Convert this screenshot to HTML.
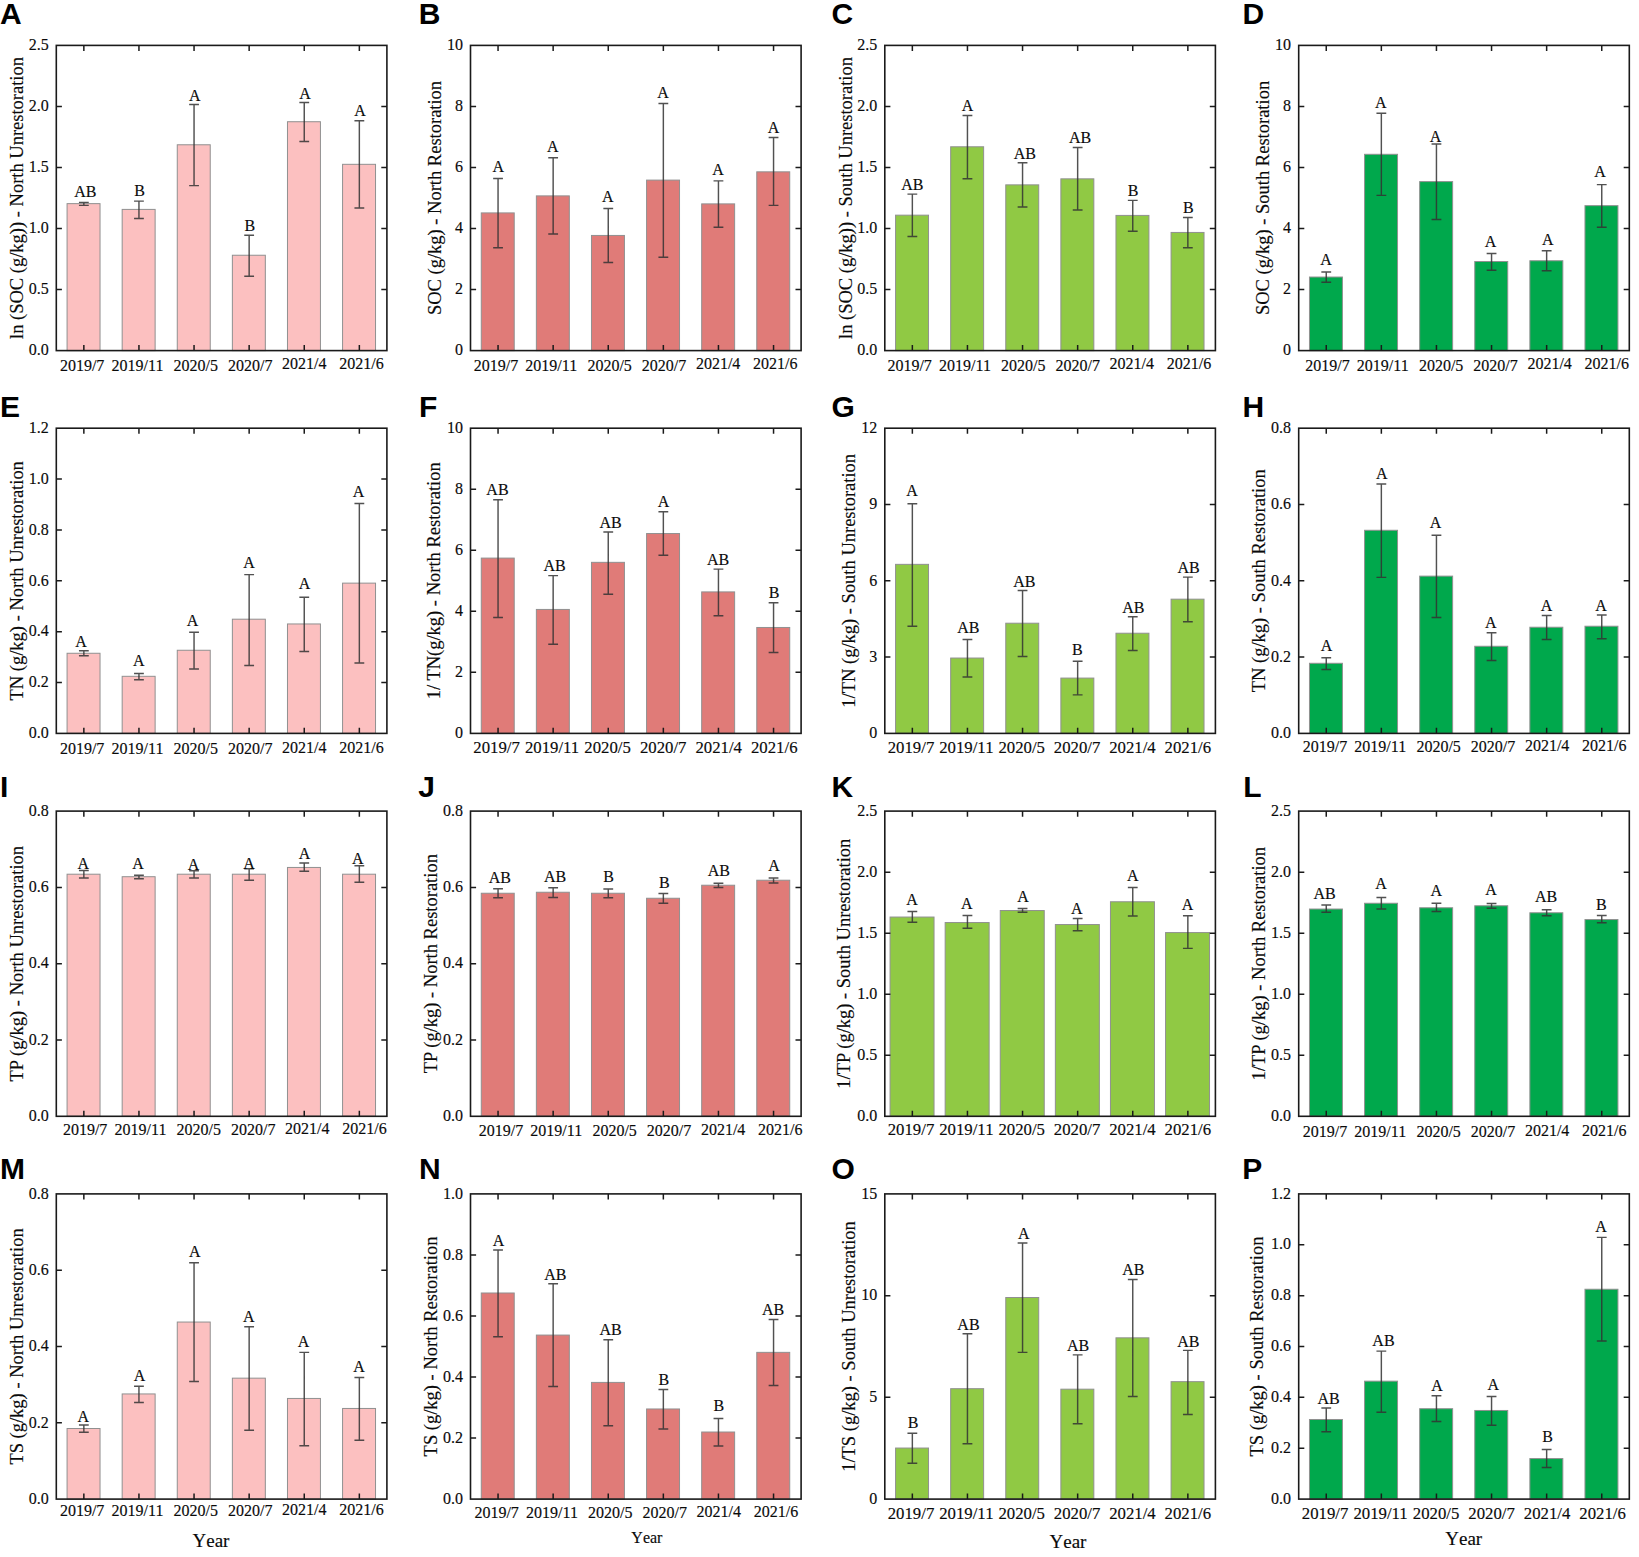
<!DOCTYPE html>
<html lang="en"><head><meta charset="utf-8"><title>Soil nutrient bar charts</title>
<style>
html,body{margin:0;padding:0;background:#fff}
svg{display:block}
text{font-family:"Liberation Serif","Times New Roman",serif;fill:#0a0a0a;stroke:#0a0a0a;stroke-width:0.15px}
.t{font-size:16px}
.yt{font-size:20px}
.pl{font-family:"Liberation Sans",Arial,sans-serif;font-weight:bold;font-size:30px;fill:#000;stroke:none}
</style></head><body>
<svg width="1639" height="1557" viewBox="0 0 1639 1557">
<rect width="1639" height="1557" fill="#fff"/>
<g>
<rect x="67.07" y="203.64" width="32.96" height="146.96" fill="#fcc0c0" stroke="#909090" stroke-width="1"/>
<rect x="122.17" y="209.4" width="32.96" height="141.2" fill="#fcc0c0" stroke="#909090" stroke-width="1"/>
<rect x="177.27" y="144.78" width="32.96" height="205.82" fill="#fcc0c0" stroke="#909090" stroke-width="1"/>
<rect x="232.37" y="255.24" width="32.96" height="95.36" fill="#fcc0c0" stroke="#909090" stroke-width="1"/>
<rect x="287.47" y="121.73" width="32.96" height="228.87" fill="#fcc0c0" stroke="#909090" stroke-width="1"/>
<rect x="342.57" y="164.32" width="32.96" height="186.28" fill="#fcc0c0" stroke="#909090" stroke-width="1"/>
<path d="M83.85 202.39V205.39M78.95 202.39H88.75M78.95 205.39H88.75M138.95 201.14V218.42M134.05 201.14H143.85M134.05 218.42H143.85M194.05 104.45V185.61M189.15 104.45H198.95M189.15 185.61H198.95M249.15 235.2V276.28M244.25 235.2H254.05M244.25 276.28H254.05M304.25 102.45V141.52M299.35 102.45H309.15M299.35 141.52H309.15M359.35 120.73V207.9M354.45 120.73H364.25M354.45 207.9H364.25" stroke="#333" stroke-width="1.45" stroke-opacity="0.85" fill="none"/>
<path d="M83.85 45.4v5.6M83.85 350.6v-5.6M138.95 45.4v5.6M138.95 350.6v-5.6M194.05 45.4v5.6M194.05 350.6v-5.6M249.15 45.4v5.6M249.15 350.6v-5.6M304.25 45.4v5.6M304.25 350.6v-5.6M359.35 45.4v5.6M359.35 350.6v-5.6M56.3 289.56h5.6M386.9 289.56h-5.6M56.3 228.52h5.6M386.9 228.52h-5.6M56.3 167.48h5.6M386.9 167.48h-5.6M56.3 106.44h5.6M386.9 106.44h-5.6" stroke="#1a1a1a" stroke-width="1.5" fill="none"/>
<rect x="56.3" y="45.4" width="330.6" height="305.2" fill="none" stroke="#1a1a1a" stroke-width="1.6"/>
<text class="t" x="48.7" y="355.3" text-anchor="end">0.0</text>
<text class="t" x="48.7" y="294.26" text-anchor="end">0.5</text>
<text class="t" x="48.7" y="233.22" text-anchor="end">1.0</text>
<text class="t" x="48.7" y="172.18" text-anchor="end">1.5</text>
<text class="t" x="48.7" y="111.14" text-anchor="end">2.0</text>
<text class="t" x="48.7" y="50.1" text-anchor="end">2.5</text>
<text class="t" style="font-size:16px" x="82.15" y="370.71" text-anchor="middle">2019/7</text>
<text class="t" style="font-size:16px" x="137.5" y="370.71" text-anchor="middle">2019/11</text>
<text class="t" style="font-size:16px" x="195.85" y="370.71" text-anchor="middle">2020/5</text>
<text class="t" style="font-size:16px" x="250.25" y="370.71" text-anchor="middle">2020/7</text>
<text class="t" style="font-size:16px" x="304.35" y="369.46" text-anchor="middle">2021/4</text>
<text class="t" style="font-size:16px" x="361.45" y="369.46" text-anchor="middle">2021/6</text>
<text class="t" x="85.25" y="197.23" text-anchor="middle">AB</text>
<text class="t" x="139.55" y="196.48" text-anchor="middle">B</text>
<text class="t" x="194.75" y="100.79" text-anchor="middle">A</text>
<text class="t" x="249.75" y="230.54" text-anchor="middle">B</text>
<text class="t" x="304.95" y="98.54" text-anchor="middle">A</text>
<text class="t" x="360.05" y="116.32" text-anchor="middle">A</text>
<text class="yt" style="font-size:19.5px" transform="translate(23.1 198) rotate(-90) scale(0.9487 1)" text-anchor="middle">ln (SOC (g/kg)) - North Unrestoration</text>
<text class="pl" x="0" y="24">A</text>
</g>
<g>
<rect x="481.27" y="212.91" width="32.96" height="137.69" fill="#e07b78" stroke="#909090" stroke-width="1"/>
<rect x="536.37" y="195.88" width="32.96" height="154.72" fill="#e07b78" stroke="#909090" stroke-width="1"/>
<rect x="591.47" y="235.45" width="32.96" height="115.15" fill="#e07b78" stroke="#909090" stroke-width="1"/>
<rect x="646.57" y="180.1" width="32.96" height="170.5" fill="#e07b78" stroke="#909090" stroke-width="1"/>
<rect x="701.67" y="203.89" width="32.96" height="146.71" fill="#e07b78" stroke="#909090" stroke-width="1"/>
<rect x="756.77" y="171.83" width="32.96" height="178.77" fill="#e07b78" stroke="#909090" stroke-width="1"/>
<path d="M498.05 178.59V247.73M493.15 178.59H502.95M493.15 247.73H502.95M553.15 157.8V233.95M548.25 157.8H558.05M548.25 233.95H558.05M608.25 208.4V262.5M603.35 208.4H613.15M603.35 262.5H613.15M663.35 103.45V257.24M658.45 103.45H668.25M658.45 257.24H668.25M718.45 180.85V227.19M713.55 180.85H723.35M713.55 227.19H723.35M773.55 137.51V205.39M768.65 137.51H778.45M768.65 205.39H778.45" stroke="#333" stroke-width="1.45" stroke-opacity="0.85" fill="none"/>
<path d="M498.05 45.4v5.6M498.05 350.6v-5.6M553.15 45.4v5.6M553.15 350.6v-5.6M608.25 45.4v5.6M608.25 350.6v-5.6M663.35 45.4v5.6M663.35 350.6v-5.6M718.45 45.4v5.6M718.45 350.6v-5.6M773.55 45.4v5.6M773.55 350.6v-5.6M470.5 289.56h5.6M801.1 289.56h-5.6M470.5 228.52h5.6M801.1 228.52h-5.6M470.5 167.48h5.6M801.1 167.48h-5.6M470.5 106.44h5.6M801.1 106.44h-5.6" stroke="#1a1a1a" stroke-width="1.5" fill="none"/>
<rect x="470.5" y="45.4" width="330.6" height="305.2" fill="none" stroke="#1a1a1a" stroke-width="1.6"/>
<text class="t" x="462.9" y="355.3" text-anchor="end">0</text>
<text class="t" x="462.9" y="294.26" text-anchor="end">2</text>
<text class="t" x="462.9" y="233.22" text-anchor="end">4</text>
<text class="t" x="462.9" y="172.18" text-anchor="end">6</text>
<text class="t" x="462.9" y="111.14" text-anchor="end">8</text>
<text class="t" x="462.9" y="50.1" text-anchor="end">10</text>
<text class="t" style="font-size:16px" x="495.95" y="370.71" text-anchor="middle">2019/7</text>
<text class="t" style="font-size:16px" x="551.3" y="370.71" text-anchor="middle">2019/11</text>
<text class="t" style="font-size:16px" x="609.65" y="370.71" text-anchor="middle">2020/5</text>
<text class="t" style="font-size:16px" x="664.05" y="370.71" text-anchor="middle">2020/7</text>
<text class="t" style="font-size:16px" x="718.15" y="369.46" text-anchor="middle">2021/4</text>
<text class="t" style="font-size:16px" x="775.25" y="369.46" text-anchor="middle">2021/6</text>
<text class="t" x="498.25" y="172.43" text-anchor="middle">A</text>
<text class="t" x="552.75" y="151.89" text-anchor="middle">A</text>
<text class="t" x="607.85" y="202.24" text-anchor="middle">A</text>
<text class="t" x="662.95" y="98.29" text-anchor="middle">A</text>
<text class="t" x="718.05" y="175.44" text-anchor="middle">A</text>
<text class="t" x="773.55" y="132.6" text-anchor="middle">A</text>
<text class="yt" style="font-size:19.5px" transform="translate(441.1 198) rotate(-90) scale(0.9487 1)" text-anchor="middle">SOC (g/kg) - North Restoration</text>
<text class="pl" x="418.7" y="24">B</text>
</g>
<g>
<rect x="895.57" y="215.16" width="32.96" height="135.44" fill="#90c944" stroke="#909090" stroke-width="1"/>
<rect x="950.67" y="146.78" width="32.96" height="203.82" fill="#90c944" stroke="#909090" stroke-width="1"/>
<rect x="1005.77" y="184.86" width="32.96" height="165.74" fill="#90c944" stroke="#909090" stroke-width="1"/>
<rect x="1060.87" y="178.84" width="32.96" height="171.76" fill="#90c944" stroke="#909090" stroke-width="1"/>
<rect x="1115.97" y="215.41" width="32.96" height="135.19" fill="#90c944" stroke="#909090" stroke-width="1"/>
<rect x="1171.07" y="232.45" width="32.96" height="118.15" fill="#90c944" stroke="#909090" stroke-width="1"/>
<path d="M912.35 194.12V236.45M907.45 194.12H917.25M907.45 236.45H917.25M967.45 115.47V178.84M962.55 115.47H972.35M962.55 178.84H972.35M1022.55 162.81V206.9M1017.65 162.81H1027.45M1017.65 206.9H1027.45M1077.65 147.53V209.9M1072.75 147.53H1082.55M1072.75 209.9H1082.55M1132.75 200.39V231.19M1127.85 200.39H1137.65M1127.85 231.19H1137.65M1187.85 217.42V247.73M1182.95 217.42H1192.75M1182.95 247.73H1192.75" stroke="#333" stroke-width="1.45" stroke-opacity="0.85" fill="none"/>
<path d="M912.35 45.4v5.6M912.35 350.6v-5.6M967.45 45.4v5.6M967.45 350.6v-5.6M1022.55 45.4v5.6M1022.55 350.6v-5.6M1077.65 45.4v5.6M1077.65 350.6v-5.6M1132.75 45.4v5.6M1132.75 350.6v-5.6M1187.85 45.4v5.6M1187.85 350.6v-5.6M884.8 289.56h5.6M1215.4 289.56h-5.6M884.8 228.52h5.6M1215.4 228.52h-5.6M884.8 167.48h5.6M1215.4 167.48h-5.6M884.8 106.44h5.6M1215.4 106.44h-5.6" stroke="#1a1a1a" stroke-width="1.5" fill="none"/>
<rect x="884.8" y="45.4" width="330.6" height="305.2" fill="none" stroke="#1a1a1a" stroke-width="1.6"/>
<text class="t" x="877.2" y="355.3" text-anchor="end">0.0</text>
<text class="t" x="877.2" y="294.26" text-anchor="end">0.5</text>
<text class="t" x="877.2" y="233.22" text-anchor="end">1.0</text>
<text class="t" x="877.2" y="172.18" text-anchor="end">1.5</text>
<text class="t" x="877.2" y="111.14" text-anchor="end">2.0</text>
<text class="t" x="877.2" y="50.1" text-anchor="end">2.5</text>
<text class="t" style="font-size:16px" x="909.65" y="370.71" text-anchor="middle">2019/7</text>
<text class="t" style="font-size:16px" x="965" y="370.71" text-anchor="middle">2019/11</text>
<text class="t" style="font-size:16px" x="1023.35" y="370.71" text-anchor="middle">2020/5</text>
<text class="t" style="font-size:16px" x="1077.75" y="370.71" text-anchor="middle">2020/7</text>
<text class="t" style="font-size:16px" x="1131.85" y="369.46" text-anchor="middle">2021/4</text>
<text class="t" style="font-size:16px" x="1188.95" y="369.46" text-anchor="middle">2021/6</text>
<text class="t" x="912.35" y="190.21" text-anchor="middle">AB</text>
<text class="t" x="967.45" y="110.81" text-anchor="middle">A</text>
<text class="t" x="1024.75" y="158.9" text-anchor="middle">AB</text>
<text class="t" x="1080.15" y="142.87" text-anchor="middle">AB</text>
<text class="t" x="1133.05" y="195.98" text-anchor="middle">B</text>
<text class="t" x="1188.35" y="212.51" text-anchor="middle">B</text>
<text class="yt" style="font-size:19.5px" transform="translate(851.6 198) rotate(-90) scale(0.9487 1)" text-anchor="middle">ln (SOC (g/kg)) - South Unrestoration</text>
<text class="pl" x="831.5" y="24">C</text>
</g>
<g>
<rect x="1309.47" y="277.03" width="32.96" height="73.57" fill="#00a84c" stroke="#909090" stroke-width="1"/>
<rect x="1364.57" y="154.3" width="32.96" height="196.3" fill="#00a84c" stroke="#909090" stroke-width="1"/>
<rect x="1419.67" y="181.6" width="32.96" height="169" fill="#00a84c" stroke="#909090" stroke-width="1"/>
<rect x="1474.77" y="261.5" width="32.96" height="89.1" fill="#00a84c" stroke="#909090" stroke-width="1"/>
<rect x="1529.87" y="260.75" width="32.96" height="89.85" fill="#00a84c" stroke="#909090" stroke-width="1"/>
<rect x="1584.97" y="205.65" width="32.96" height="144.95" fill="#00a84c" stroke="#909090" stroke-width="1"/>
<path d="M1326.25 272.02V282.29M1321.35 272.02H1331.15M1321.35 282.29H1331.15M1381.35 113.22V195.38M1376.45 113.22H1386.25M1376.45 195.38H1386.25M1436.45 144.03V219.42M1431.55 144.03H1441.35M1431.55 219.42H1441.35M1491.55 253.49V270.27M1486.65 253.49H1496.45M1486.65 270.27H1496.45M1546.65 250.73V270.77M1541.75 250.73H1551.55M1541.75 270.77H1551.55M1601.75 184.61V227.19M1596.85 184.61H1606.65M1596.85 227.19H1606.65" stroke="#333" stroke-width="1.45" stroke-opacity="0.85" fill="none"/>
<path d="M1326.25 45.4v5.6M1326.25 350.6v-5.6M1381.35 45.4v5.6M1381.35 350.6v-5.6M1436.45 45.4v5.6M1436.45 350.6v-5.6M1491.55 45.4v5.6M1491.55 350.6v-5.6M1546.65 45.4v5.6M1546.65 350.6v-5.6M1601.75 45.4v5.6M1601.75 350.6v-5.6M1298.7 289.56h5.6M1629.3 289.56h-5.6M1298.7 228.52h5.6M1629.3 228.52h-5.6M1298.7 167.48h5.6M1629.3 167.48h-5.6M1298.7 106.44h5.6M1629.3 106.44h-5.6" stroke="#1a1a1a" stroke-width="1.5" fill="none"/>
<rect x="1298.7" y="45.4" width="330.6" height="305.2" fill="none" stroke="#1a1a1a" stroke-width="1.6"/>
<text class="t" x="1291.1" y="355.3" text-anchor="end">0</text>
<text class="t" x="1291.1" y="294.26" text-anchor="end">2</text>
<text class="t" x="1291.1" y="233.22" text-anchor="end">4</text>
<text class="t" x="1291.1" y="172.18" text-anchor="end">6</text>
<text class="t" x="1291.1" y="111.14" text-anchor="end">8</text>
<text class="t" x="1291.1" y="50.1" text-anchor="end">10</text>
<text class="t" style="font-size:16px" x="1327.45" y="370.71" text-anchor="middle">2019/7</text>
<text class="t" style="font-size:16px" x="1382.8" y="370.71" text-anchor="middle">2019/11</text>
<text class="t" style="font-size:16px" x="1441.15" y="370.71" text-anchor="middle">2020/5</text>
<text class="t" style="font-size:16px" x="1495.55" y="370.71" text-anchor="middle">2020/7</text>
<text class="t" style="font-size:16px" x="1549.65" y="369.46" text-anchor="middle">2021/4</text>
<text class="t" style="font-size:16px" x="1606.75" y="369.46" text-anchor="middle">2021/6</text>
<text class="t" x="1326.05" y="265.11" text-anchor="middle">A</text>
<text class="t" x="1380.85" y="107.81" text-anchor="middle">A</text>
<text class="t" x="1435.65" y="141.62" text-anchor="middle">A</text>
<text class="t" x="1490.65" y="246.82" text-anchor="middle">A</text>
<text class="t" x="1547.85" y="245.07" text-anchor="middle">A</text>
<text class="t" x="1600.05" y="176.94" text-anchor="middle">A</text>
<text class="yt" style="font-size:19.5px" transform="translate(1268.6 198) rotate(-90) scale(0.9487 1)" text-anchor="middle">SOC (g/kg) - South Restoration</text>
<text class="pl" x="1242.5" y="24">D</text>
</g>
<g>
<rect x="67.07" y="653.27" width="32.96" height="80.13" fill="#fcc0c0" stroke="#909090" stroke-width="1"/>
<rect x="122.17" y="676.31" width="32.96" height="57.09" fill="#fcc0c0" stroke="#909090" stroke-width="1"/>
<rect x="177.27" y="650.26" width="32.96" height="83.14" fill="#fcc0c0" stroke="#909090" stroke-width="1"/>
<rect x="232.37" y="619.2" width="32.96" height="114.2" fill="#fcc0c0" stroke="#909090" stroke-width="1"/>
<rect x="287.47" y="623.96" width="32.96" height="109.44" fill="#fcc0c0" stroke="#909090" stroke-width="1"/>
<rect x="342.57" y="583.13" width="32.96" height="150.27" fill="#fcc0c0" stroke="#909090" stroke-width="1"/>
<path d="M83.85 650.76V655.77M78.95 650.76H88.75M78.95 655.77H88.75M138.95 673.56V679.82M134.05 673.56H143.85M134.05 679.82H143.85M194.05 632.23V669.05M189.15 632.23H198.95M189.15 669.05H198.95M249.15 574.62V665.54M244.25 574.62H254.05M244.25 665.54H254.05M304.25 597.16V651.52M299.35 597.16H309.15M299.35 651.52H309.15M359.35 503.48V663.04M354.45 503.48H364.25M354.45 663.04H364.25" stroke="#333" stroke-width="1.45" stroke-opacity="0.85" fill="none"/>
<path d="M83.85 428.2v5.6M83.85 733.4v-5.6M138.95 428.2v5.6M138.95 733.4v-5.6M194.05 428.2v5.6M194.05 733.4v-5.6M249.15 428.2v5.6M249.15 733.4v-5.6M304.25 428.2v5.6M304.25 733.4v-5.6M359.35 428.2v5.6M359.35 733.4v-5.6M56.3 682.53h5.6M386.9 682.53h-5.6M56.3 631.67h5.6M386.9 631.67h-5.6M56.3 580.8h5.6M386.9 580.8h-5.6M56.3 529.93h5.6M386.9 529.93h-5.6M56.3 479.07h5.6M386.9 479.07h-5.6" stroke="#1a1a1a" stroke-width="1.5" fill="none"/>
<rect x="56.3" y="428.2" width="330.6" height="305.2" fill="none" stroke="#1a1a1a" stroke-width="1.6"/>
<text class="t" x="48.7" y="738.1" text-anchor="end">0.0</text>
<text class="t" x="48.7" y="687.23" text-anchor="end">0.2</text>
<text class="t" x="48.7" y="636.37" text-anchor="end">0.4</text>
<text class="t" x="48.7" y="585.5" text-anchor="end">0.6</text>
<text class="t" x="48.7" y="534.63" text-anchor="end">0.8</text>
<text class="t" x="48.7" y="483.77" text-anchor="end">1.0</text>
<text class="t" x="48.7" y="432.9" text-anchor="end">1.2</text>
<text class="t" style="font-size:16px" x="82.15" y="754.21" text-anchor="middle">2019/7</text>
<text class="t" style="font-size:16px" x="137.5" y="754.21" text-anchor="middle">2019/11</text>
<text class="t" style="font-size:16px" x="195.85" y="754.21" text-anchor="middle">2020/5</text>
<text class="t" style="font-size:16px" x="250.25" y="754.21" text-anchor="middle">2020/7</text>
<text class="t" style="font-size:16px" x="304.35" y="753.21" text-anchor="middle">2021/4</text>
<text class="t" style="font-size:16px" x="361.45" y="753.21" text-anchor="middle">2021/6</text>
<text class="t" x="81.15" y="647.36" text-anchor="middle">A</text>
<text class="t" x="138.75" y="665.89" text-anchor="middle">A</text>
<text class="t" x="192.65" y="626.07" text-anchor="middle">A</text>
<text class="t" x="249.15" y="567.7" text-anchor="middle">A</text>
<text class="t" x="304.55" y="589.25" text-anchor="middle">A</text>
<text class="t" x="358.65" y="497.07" text-anchor="middle">A</text>
<text class="yt" style="font-size:19.5px" transform="translate(23.1 580.8) rotate(-90) scale(0.9487 1)" text-anchor="middle">TN (g/kg) - North Unrestoration</text>
<text class="pl" x="0" y="416.8">E</text>
</g>
<g>
<rect x="481.27" y="558.09" width="32.96" height="175.31" fill="#e07b78" stroke="#909090" stroke-width="1"/>
<rect x="536.37" y="609.44" width="32.96" height="123.96" fill="#e07b78" stroke="#909090" stroke-width="1"/>
<rect x="591.47" y="562.34" width="32.96" height="171.06" fill="#e07b78" stroke="#909090" stroke-width="1"/>
<rect x="646.57" y="533.54" width="32.96" height="199.86" fill="#e07b78" stroke="#909090" stroke-width="1"/>
<rect x="701.67" y="591.9" width="32.96" height="141.5" fill="#e07b78" stroke="#909090" stroke-width="1"/>
<rect x="756.77" y="627.47" width="32.96" height="105.93" fill="#e07b78" stroke="#909090" stroke-width="1"/>
<path d="M498.05 499.72V617.45M493.15 499.72H502.95M493.15 617.45H502.95M553.15 575.62V644.25M548.25 575.62H558.05M548.25 644.25H558.05M608.25 532.04V594.16M603.35 532.04H613.15M603.35 594.16H613.15M663.35 511.75V555.33M658.45 511.75H668.25M658.45 555.33H668.25M718.45 569.11V615.7M713.55 569.11H723.35M713.55 615.7H723.35M773.55 602.67V652.52M768.65 602.67H778.45M768.65 652.52H778.45" stroke="#333" stroke-width="1.45" stroke-opacity="0.85" fill="none"/>
<path d="M498.05 428.2v5.6M498.05 733.4v-5.6M553.15 428.2v5.6M553.15 733.4v-5.6M608.25 428.2v5.6M608.25 733.4v-5.6M663.35 428.2v5.6M663.35 733.4v-5.6M718.45 428.2v5.6M718.45 733.4v-5.6M773.55 428.2v5.6M773.55 733.4v-5.6M470.5 672.36h5.6M801.1 672.36h-5.6M470.5 611.32h5.6M801.1 611.32h-5.6M470.5 550.28h5.6M801.1 550.28h-5.6M470.5 489.24h5.6M801.1 489.24h-5.6" stroke="#1a1a1a" stroke-width="1.5" fill="none"/>
<rect x="470.5" y="428.2" width="330.6" height="305.2" fill="none" stroke="#1a1a1a" stroke-width="1.6"/>
<text class="t" x="462.9" y="738.1" text-anchor="end">0</text>
<text class="t" x="462.9" y="677.06" text-anchor="end">2</text>
<text class="t" x="462.9" y="616.02" text-anchor="end">4</text>
<text class="t" x="462.9" y="554.98" text-anchor="end">6</text>
<text class="t" x="462.9" y="493.94" text-anchor="end">8</text>
<text class="t" x="462.9" y="432.9" text-anchor="end">10</text>
<text class="t" style="font-size:16.75px" x="496.55" y="753.21" text-anchor="middle">2019/7</text>
<text class="t" style="font-size:16.75px" x="552.09" y="753.21" text-anchor="middle">2019/11</text>
<text class="t" style="font-size:16.75px" x="607.63" y="753.21" text-anchor="middle">2020/5</text>
<text class="t" style="font-size:16.75px" x="663.17" y="753.21" text-anchor="middle">2020/7</text>
<text class="t" style="font-size:16.75px" x="718.71" y="753.21" text-anchor="middle">2021/4</text>
<text class="t" style="font-size:16.75px" x="774.25" y="753.21" text-anchor="middle">2021/6</text>
<text class="t" x="497.45" y="495.06" text-anchor="middle">AB</text>
<text class="t" x="554.65" y="571.46" text-anchor="middle">AB</text>
<text class="t" x="610.55" y="528.38" text-anchor="middle">AB</text>
<text class="t" x="663.55" y="507.34" text-anchor="middle">A</text>
<text class="t" x="718.05" y="564.95" text-anchor="middle">AB</text>
<text class="t" x="774.05" y="597.76" text-anchor="middle">B</text>
<text class="yt" style="font-size:19.5px" transform="translate(440.3 580.8) rotate(-90) scale(0.9487 1)" text-anchor="middle">1/ TN(g/kg) - North Restoration</text>
<text class="pl" x="419" y="416.8">F</text>
</g>
<g>
<rect x="895.57" y="564.35" width="32.96" height="169.05" fill="#90c944" stroke="#909090" stroke-width="1"/>
<rect x="950.67" y="658.03" width="32.96" height="75.37" fill="#90c944" stroke="#909090" stroke-width="1"/>
<rect x="1005.77" y="623.21" width="32.96" height="110.19" fill="#90c944" stroke="#909090" stroke-width="1"/>
<rect x="1060.87" y="678.07" width="32.96" height="55.33" fill="#90c944" stroke="#909090" stroke-width="1"/>
<rect x="1115.97" y="633.23" width="32.96" height="100.17" fill="#90c944" stroke="#909090" stroke-width="1"/>
<rect x="1171.07" y="599.17" width="32.96" height="134.23" fill="#90c944" stroke="#909090" stroke-width="1"/>
<path d="M912.35 503.73V626.22M907.45 503.73H917.25M907.45 626.22H917.25M967.45 639.49V677.07M962.55 639.49H972.35M962.55 677.07H972.35M1022.55 590.4V656.53M1017.65 590.4H1027.45M1017.65 656.53H1027.45M1077.65 661.29V694.85M1072.75 661.29H1082.55M1072.75 694.85H1082.55M1132.75 616.7V650.51M1127.85 616.7H1137.65M1127.85 650.51H1137.65M1187.85 577.12V621.71M1182.95 577.12H1192.75M1182.95 621.71H1192.75" stroke="#333" stroke-width="1.45" stroke-opacity="0.85" fill="none"/>
<path d="M912.35 428.2v5.6M912.35 733.4v-5.6M967.45 428.2v5.6M967.45 733.4v-5.6M1022.55 428.2v5.6M1022.55 733.4v-5.6M1077.65 428.2v5.6M1077.65 733.4v-5.6M1132.75 428.2v5.6M1132.75 733.4v-5.6M1187.85 428.2v5.6M1187.85 733.4v-5.6M884.8 657.1h5.6M1215.4 657.1h-5.6M884.8 580.8h5.6M1215.4 580.8h-5.6M884.8 504.5h5.6M1215.4 504.5h-5.6" stroke="#1a1a1a" stroke-width="1.5" fill="none"/>
<rect x="884.8" y="428.2" width="330.6" height="305.2" fill="none" stroke="#1a1a1a" stroke-width="1.6"/>
<text class="t" x="877.2" y="738.1" text-anchor="end">0</text>
<text class="t" x="877.2" y="661.8" text-anchor="end">3</text>
<text class="t" x="877.2" y="585.5" text-anchor="end">6</text>
<text class="t" x="877.2" y="509.2" text-anchor="end">9</text>
<text class="t" x="877.2" y="432.9" text-anchor="end">12</text>
<text class="t" style="font-size:16.75px" x="911" y="752.96" text-anchor="middle">2019/7</text>
<text class="t" style="font-size:16.75px" x="966.37" y="752.96" text-anchor="middle">2019/11</text>
<text class="t" style="font-size:16.75px" x="1021.74" y="752.96" text-anchor="middle">2020/5</text>
<text class="t" style="font-size:16.75px" x="1077.11" y="752.96" text-anchor="middle">2020/7</text>
<text class="t" style="font-size:16.75px" x="1132.48" y="752.96" text-anchor="middle">2021/4</text>
<text class="t" style="font-size:16.75px" x="1187.85" y="752.96" text-anchor="middle">2021/6</text>
<text class="t" x="911.95" y="496.32" text-anchor="middle">A</text>
<text class="t" x="968.25" y="632.83" text-anchor="middle">AB</text>
<text class="t" x="1024.25" y="586.99" text-anchor="middle">AB</text>
<text class="t" x="1077.35" y="654.87" text-anchor="middle">B</text>
<text class="t" x="1133.25" y="613.04" text-anchor="middle">AB</text>
<text class="t" x="1188.65" y="573.21" text-anchor="middle">AB</text>
<text class="yt" style="font-size:19.5px" transform="translate(854.9 580.8) rotate(-90) scale(0.9487 1)" text-anchor="middle">1/TN (g/kg) - South Unrestoration</text>
<text class="pl" x="831.5" y="416.8">G</text>
</g>
<g>
<rect x="1309.47" y="663.29" width="32.96" height="70.11" fill="#00a84c" stroke="#909090" stroke-width="1"/>
<rect x="1364.57" y="530.28" width="32.96" height="203.12" fill="#00a84c" stroke="#909090" stroke-width="1"/>
<rect x="1419.67" y="576.12" width="32.96" height="157.28" fill="#00a84c" stroke="#909090" stroke-width="1"/>
<rect x="1474.77" y="646.26" width="32.96" height="87.14" fill="#00a84c" stroke="#909090" stroke-width="1"/>
<rect x="1529.87" y="627.22" width="32.96" height="106.18" fill="#00a84c" stroke="#909090" stroke-width="1"/>
<rect x="1584.97" y="626.22" width="32.96" height="107.18" fill="#00a84c" stroke="#909090" stroke-width="1"/>
<path d="M1326.25 657.78V669.55M1321.35 657.78H1331.15M1321.35 669.55H1331.15M1381.35 483.94V577.37M1376.45 483.94H1386.25M1376.45 577.37H1386.25M1436.45 535.29V617.45M1431.55 535.29H1441.35M1431.55 617.45H1441.35M1491.55 632.73V660.53M1486.65 632.73H1496.45M1486.65 660.53H1496.45M1546.65 615.45V639.49M1541.75 615.45H1551.55M1541.75 639.49H1551.55M1601.75 614.95V638.74M1596.85 614.95H1606.65M1596.85 638.74H1606.65" stroke="#333" stroke-width="1.45" stroke-opacity="0.85" fill="none"/>
<path d="M1326.25 428.2v5.6M1326.25 733.4v-5.6M1381.35 428.2v5.6M1381.35 733.4v-5.6M1436.45 428.2v5.6M1436.45 733.4v-5.6M1491.55 428.2v5.6M1491.55 733.4v-5.6M1546.65 428.2v5.6M1546.65 733.4v-5.6M1601.75 428.2v5.6M1601.75 733.4v-5.6M1298.7 657.1h5.6M1629.3 657.1h-5.6M1298.7 580.8h5.6M1629.3 580.8h-5.6M1298.7 504.5h5.6M1629.3 504.5h-5.6" stroke="#1a1a1a" stroke-width="1.5" fill="none"/>
<rect x="1298.7" y="428.2" width="330.6" height="305.2" fill="none" stroke="#1a1a1a" stroke-width="1.6"/>
<text class="t" x="1291.1" y="738.1" text-anchor="end">0.0</text>
<text class="t" x="1291.1" y="661.8" text-anchor="end">0.2</text>
<text class="t" x="1291.1" y="585.5" text-anchor="end">0.4</text>
<text class="t" x="1291.1" y="509.2" text-anchor="end">0.6</text>
<text class="t" x="1291.1" y="432.9" text-anchor="end">0.8</text>
<text class="t" style="font-size:16px" x="1324.95" y="751.71" text-anchor="middle">2019/7</text>
<text class="t" style="font-size:16px" x="1380.3" y="751.71" text-anchor="middle">2019/11</text>
<text class="t" style="font-size:16px" x="1438.65" y="751.71" text-anchor="middle">2020/5</text>
<text class="t" style="font-size:16px" x="1493.05" y="751.71" text-anchor="middle">2020/7</text>
<text class="t" style="font-size:16px" x="1547.15" y="750.71" text-anchor="middle">2021/4</text>
<text class="t" style="font-size:16px" x="1604.25" y="750.71" text-anchor="middle">2021/6</text>
<text class="t" x="1326.45" y="651.11" text-anchor="middle">A</text>
<text class="t" x="1381.75" y="478.78" text-anchor="middle">A</text>
<text class="t" x="1435.55" y="528.38" text-anchor="middle">A</text>
<text class="t" x="1490.75" y="627.82" text-anchor="middle">A</text>
<text class="t" x="1546.65" y="610.79" text-anchor="middle">A</text>
<text class="t" x="1601.15" y="610.54" text-anchor="middle">A</text>
<text class="yt" style="font-size:19.5px" transform="translate(1264.8 580.8) rotate(-90) scale(0.9487 1)" text-anchor="middle">TN (g/kg) - South Restoration</text>
<text class="pl" x="1242.5" y="416.8">H</text>
</g>
<g>
<rect x="67.07" y="874.21" width="32.96" height="242.09" fill="#fcc0c0" stroke="#909090" stroke-width="1"/>
<rect x="122.17" y="876.71" width="32.96" height="239.59" fill="#fcc0c0" stroke="#909090" stroke-width="1"/>
<rect x="177.27" y="874.21" width="32.96" height="242.09" fill="#fcc0c0" stroke="#909090" stroke-width="1"/>
<rect x="232.37" y="874.21" width="32.96" height="242.09" fill="#fcc0c0" stroke="#909090" stroke-width="1"/>
<rect x="287.47" y="867.45" width="32.96" height="248.85" fill="#fcc0c0" stroke="#909090" stroke-width="1"/>
<rect x="342.57" y="874.21" width="32.96" height="242.09" fill="#fcc0c0" stroke="#909090" stroke-width="1"/>
<path d="M83.85 870.45V877.97M78.95 870.45H88.75M78.95 877.97H88.75M138.95 875.21V878.72M134.05 875.21H143.85M134.05 878.72H143.85M194.05 870.7V877.97M189.15 870.7H198.95M189.15 877.97H198.95M249.15 868.7V880.22M244.25 868.7H254.05M244.25 880.22H254.05M304.25 862.94V871.2M299.35 862.94H309.15M299.35 871.2H309.15M359.35 865.69V882.22M354.45 865.69H364.25M354.45 882.22H364.25" stroke="#333" stroke-width="1.45" stroke-opacity="0.85" fill="none"/>
<path d="M83.85 811.1v5.6M83.85 1116.3v-5.6M138.95 811.1v5.6M138.95 1116.3v-5.6M194.05 811.1v5.6M194.05 1116.3v-5.6M249.15 811.1v5.6M249.15 1116.3v-5.6M304.25 811.1v5.6M304.25 1116.3v-5.6M359.35 811.1v5.6M359.35 1116.3v-5.6M56.3 1040h5.6M386.9 1040h-5.6M56.3 963.7h5.6M386.9 963.7h-5.6M56.3 887.4h5.6M386.9 887.4h-5.6" stroke="#1a1a1a" stroke-width="1.5" fill="none"/>
<rect x="56.3" y="811.1" width="330.6" height="305.2" fill="none" stroke="#1a1a1a" stroke-width="1.6"/>
<text class="t" x="48.7" y="1121" text-anchor="end">0.0</text>
<text class="t" x="48.7" y="1044.7" text-anchor="end">0.2</text>
<text class="t" x="48.7" y="968.4" text-anchor="end">0.4</text>
<text class="t" x="48.7" y="892.1" text-anchor="end">0.6</text>
<text class="t" x="48.7" y="815.8" text-anchor="end">0.8</text>
<text class="t" style="font-size:16px" x="85.15" y="1135.46" text-anchor="middle">2019/7</text>
<text class="t" style="font-size:16px" x="140.5" y="1135.46" text-anchor="middle">2019/11</text>
<text class="t" style="font-size:16px" x="198.85" y="1135.46" text-anchor="middle">2020/5</text>
<text class="t" style="font-size:16px" x="253.25" y="1135.46" text-anchor="middle">2020/7</text>
<text class="t" style="font-size:16px" x="307.35" y="1134.21" text-anchor="middle">2021/4</text>
<text class="t" style="font-size:16px" x="364.45" y="1134.21" text-anchor="middle">2021/6</text>
<text class="t" x="83.25" y="869.3" text-anchor="middle">A</text>
<text class="t" x="138.15" y="869.3" text-anchor="middle">A</text>
<text class="t" x="193.45" y="870.05" text-anchor="middle">A</text>
<text class="t" x="249.15" y="869.3" text-anchor="middle">A</text>
<text class="t" x="304.65" y="859.03" text-anchor="middle">A</text>
<text class="t" x="357.85" y="863.79" text-anchor="middle">A</text>
<text class="yt" style="font-size:19.5px" transform="translate(23.1 963.7) rotate(-90) scale(0.9487 1)" text-anchor="middle">TP (g/kg) - North Unrestoration</text>
<text class="pl" x="0" y="797.3">I</text>
</g>
<g>
<rect x="481.27" y="893.24" width="32.96" height="223.06" fill="#e07b78" stroke="#909090" stroke-width="1"/>
<rect x="536.37" y="892.24" width="32.96" height="224.06" fill="#e07b78" stroke="#909090" stroke-width="1"/>
<rect x="591.47" y="893.24" width="32.96" height="223.06" fill="#e07b78" stroke="#909090" stroke-width="1"/>
<rect x="646.57" y="898.25" width="32.96" height="218.05" fill="#e07b78" stroke="#909090" stroke-width="1"/>
<rect x="701.67" y="885.23" width="32.96" height="231.07" fill="#e07b78" stroke="#909090" stroke-width="1"/>
<rect x="756.77" y="880.22" width="32.96" height="236.08" fill="#e07b78" stroke="#909090" stroke-width="1"/>
<path d="M498.05 888.74V897.75M493.15 888.74H502.95M493.15 897.75H502.95M553.15 887.73V897.5M548.25 887.73H558.05M548.25 897.5H558.05M608.25 888.99V897.75M603.35 888.99H613.15M603.35 897.75H613.15M663.35 893.5V903.26M658.45 893.5H668.25M658.45 903.26H668.25M718.45 883.23V887.48M713.55 883.23H723.35M713.55 887.48H723.35M773.55 877.97V882.97M768.65 877.97H778.45M768.65 882.97H778.45" stroke="#333" stroke-width="1.45" stroke-opacity="0.85" fill="none"/>
<path d="M498.05 811.1v5.6M498.05 1116.3v-5.6M553.15 811.1v5.6M553.15 1116.3v-5.6M608.25 811.1v5.6M608.25 1116.3v-5.6M663.35 811.1v5.6M663.35 1116.3v-5.6M718.45 811.1v5.6M718.45 1116.3v-5.6M773.55 811.1v5.6M773.55 1116.3v-5.6M470.5 1040h5.6M801.1 1040h-5.6M470.5 963.7h5.6M801.1 963.7h-5.6M470.5 887.4h5.6M801.1 887.4h-5.6" stroke="#1a1a1a" stroke-width="1.5" fill="none"/>
<rect x="470.5" y="811.1" width="330.6" height="305.2" fill="none" stroke="#1a1a1a" stroke-width="1.6"/>
<text class="t" x="462.9" y="1121" text-anchor="end">0.0</text>
<text class="t" x="462.9" y="1044.7" text-anchor="end">0.2</text>
<text class="t" x="462.9" y="968.4" text-anchor="end">0.4</text>
<text class="t" x="462.9" y="892.1" text-anchor="end">0.6</text>
<text class="t" x="462.9" y="815.8" text-anchor="end">0.8</text>
<text class="t" style="font-size:16px" x="500.95" y="1136.21" text-anchor="middle">2019/7</text>
<text class="t" style="font-size:16px" x="556.3" y="1136.21" text-anchor="middle">2019/11</text>
<text class="t" style="font-size:16px" x="614.65" y="1136.21" text-anchor="middle">2020/5</text>
<text class="t" style="font-size:16px" x="669.05" y="1136.21" text-anchor="middle">2020/7</text>
<text class="t" style="font-size:16px" x="723.15" y="1135.21" text-anchor="middle">2021/4</text>
<text class="t" style="font-size:16px" x="780.25" y="1135.21" text-anchor="middle">2021/6</text>
<text class="t" x="499.75" y="883.32" text-anchor="middle">AB</text>
<text class="t" x="555.05" y="882.32" text-anchor="middle">AB</text>
<text class="t" x="608.55" y="882.32" text-anchor="middle">B</text>
<text class="t" x="664.45" y="887.58" text-anchor="middle">B</text>
<text class="t" x="718.85" y="875.56" text-anchor="middle">AB</text>
<text class="t" x="774.15" y="870.55" text-anchor="middle">A</text>
<text class="yt" style="font-size:19.5px" transform="translate(437.3 963.7) rotate(-90) scale(0.9487 1)" text-anchor="middle">TP (g/kg) - North Restoration</text>
<text class="pl" x="418.2" y="797.3">J</text>
</g>
<g>
<rect x="890.06" y="917.04" width="43.98" height="199.26" fill="#90c944" stroke="#909090" stroke-width="1"/>
<rect x="945.16" y="922.55" width="43.98" height="193.75" fill="#90c944" stroke="#909090" stroke-width="1"/>
<rect x="1000.26" y="910.53" width="43.98" height="205.77" fill="#90c944" stroke="#909090" stroke-width="1"/>
<rect x="1055.36" y="924.55" width="43.98" height="191.75" fill="#90c944" stroke="#909090" stroke-width="1"/>
<rect x="1110.46" y="901.76" width="43.98" height="214.54" fill="#90c944" stroke="#909090" stroke-width="1"/>
<rect x="1165.56" y="932.57" width="43.98" height="183.73" fill="#90c944" stroke="#909090" stroke-width="1"/>
<path d="M912.35 911.53V922.3M907.45 911.53H917.25M907.45 922.3H917.25M967.45 915.54V928.31M962.55 915.54H972.35M962.55 928.31H972.35M1022.55 908.52V912.28M1017.65 908.52H1027.45M1017.65 912.28H1027.45M1077.65 918.54V930.82M1072.75 918.54H1082.55M1072.75 930.82H1082.55M1132.75 887.48V916.04M1127.85 887.48H1137.65M1127.85 916.04H1137.65M1187.85 915.79V948.35M1182.95 915.79H1192.75M1182.95 948.35H1192.75" stroke="#333" stroke-width="1.45" stroke-opacity="0.85" fill="none"/>
<path d="M912.35 811.1v5.6M912.35 1116.3v-5.6M967.45 811.1v5.6M967.45 1116.3v-5.6M1022.55 811.1v5.6M1022.55 1116.3v-5.6M1077.65 811.1v5.6M1077.65 1116.3v-5.6M1132.75 811.1v5.6M1132.75 1116.3v-5.6M1187.85 811.1v5.6M1187.85 1116.3v-5.6M884.8 1055.26h5.6M1215.4 1055.26h-5.6M884.8 994.22h5.6M1215.4 994.22h-5.6M884.8 933.18h5.6M1215.4 933.18h-5.6M884.8 872.14h5.6M1215.4 872.14h-5.6" stroke="#1a1a1a" stroke-width="1.5" fill="none"/>
<rect x="884.8" y="811.1" width="330.6" height="305.2" fill="none" stroke="#1a1a1a" stroke-width="1.6"/>
<text class="t" x="877.2" y="1121" text-anchor="end">0.0</text>
<text class="t" x="877.2" y="1059.96" text-anchor="end">0.5</text>
<text class="t" x="877.2" y="998.92" text-anchor="end">1.0</text>
<text class="t" x="877.2" y="937.88" text-anchor="end">1.5</text>
<text class="t" x="877.2" y="876.84" text-anchor="end">2.0</text>
<text class="t" x="877.2" y="815.8" text-anchor="end">2.5</text>
<text class="t" style="font-size:16.75px" x="911" y="1135.46" text-anchor="middle">2019/7</text>
<text class="t" style="font-size:16.75px" x="966.37" y="1135.46" text-anchor="middle">2019/11</text>
<text class="t" style="font-size:16.75px" x="1021.74" y="1135.46" text-anchor="middle">2020/5</text>
<text class="t" style="font-size:16.75px" x="1077.11" y="1135.46" text-anchor="middle">2020/7</text>
<text class="t" style="font-size:16.75px" x="1132.48" y="1135.46" text-anchor="middle">2021/4</text>
<text class="t" style="font-size:16.75px" x="1187.85" y="1135.46" text-anchor="middle">2021/6</text>
<text class="t" x="911.95" y="905.37" text-anchor="middle">A</text>
<text class="t" x="966.85" y="909.37" text-anchor="middle">A</text>
<text class="t" x="1023.15" y="901.86" text-anchor="middle">A</text>
<text class="t" x="1076.85" y="914.38" text-anchor="middle">A</text>
<text class="t" x="1132.75" y="880.82" text-anchor="middle">A</text>
<text class="t" x="1187.65" y="910.38" text-anchor="middle">A</text>
<text class="yt" style="font-size:19.5px" transform="translate(850.1 963.7) rotate(-90) scale(0.9487 1)" text-anchor="middle">1/TP (g/kg) - South Unrestoration</text>
<text class="pl" x="831.5" y="797.3">K</text>
</g>
<g>
<rect x="1309.47" y="909.03" width="32.96" height="207.27" fill="#00a84c" stroke="#909090" stroke-width="1"/>
<rect x="1364.57" y="903.26" width="32.96" height="213.04" fill="#00a84c" stroke="#909090" stroke-width="1"/>
<rect x="1419.67" y="907.77" width="32.96" height="208.53" fill="#00a84c" stroke="#909090" stroke-width="1"/>
<rect x="1474.77" y="905.77" width="32.96" height="210.53" fill="#00a84c" stroke="#909090" stroke-width="1"/>
<rect x="1529.87" y="912.78" width="32.96" height="203.52" fill="#00a84c" stroke="#909090" stroke-width="1"/>
<rect x="1584.97" y="919.55" width="32.96" height="196.75" fill="#00a84c" stroke="#909090" stroke-width="1"/>
<path d="M1326.25 905.02V912.28M1321.35 905.02H1331.15M1321.35 912.28H1331.15M1381.35 897.5V909.03M1376.45 897.5H1386.25M1376.45 909.03H1386.25M1436.45 903.26V911.53M1431.55 903.26H1441.35M1431.55 911.53H1441.35M1491.55 903.51V908.27M1486.65 903.51H1496.45M1486.65 908.27H1496.45M1546.65 909.78V915.79M1541.75 909.78H1551.55M1541.75 915.79H1551.55M1601.75 915.54V922.8M1596.85 915.54H1606.65M1596.85 922.8H1606.65" stroke="#333" stroke-width="1.45" stroke-opacity="0.85" fill="none"/>
<path d="M1326.25 811.1v5.6M1326.25 1116.3v-5.6M1381.35 811.1v5.6M1381.35 1116.3v-5.6M1436.45 811.1v5.6M1436.45 1116.3v-5.6M1491.55 811.1v5.6M1491.55 1116.3v-5.6M1546.65 811.1v5.6M1546.65 1116.3v-5.6M1601.75 811.1v5.6M1601.75 1116.3v-5.6M1298.7 1055.26h5.6M1629.3 1055.26h-5.6M1298.7 994.22h5.6M1629.3 994.22h-5.6M1298.7 933.18h5.6M1629.3 933.18h-5.6M1298.7 872.14h5.6M1629.3 872.14h-5.6" stroke="#1a1a1a" stroke-width="1.5" fill="none"/>
<rect x="1298.7" y="811.1" width="330.6" height="305.2" fill="none" stroke="#1a1a1a" stroke-width="1.6"/>
<text class="t" x="1291.1" y="1121" text-anchor="end">0.0</text>
<text class="t" x="1291.1" y="1059.96" text-anchor="end">0.5</text>
<text class="t" x="1291.1" y="998.92" text-anchor="end">1.0</text>
<text class="t" x="1291.1" y="937.88" text-anchor="end">1.5</text>
<text class="t" x="1291.1" y="876.84" text-anchor="end">2.0</text>
<text class="t" x="1291.1" y="815.8" text-anchor="end">2.5</text>
<text class="t" style="font-size:16px" x="1324.95" y="1136.71" text-anchor="middle">2019/7</text>
<text class="t" style="font-size:16px" x="1380.3" y="1136.71" text-anchor="middle">2019/11</text>
<text class="t" style="font-size:16px" x="1438.65" y="1136.71" text-anchor="middle">2020/5</text>
<text class="t" style="font-size:16px" x="1493.05" y="1136.71" text-anchor="middle">2020/7</text>
<text class="t" style="font-size:16px" x="1547.15" y="1135.71" text-anchor="middle">2021/4</text>
<text class="t" style="font-size:16px" x="1604.25" y="1135.71" text-anchor="middle">2021/6</text>
<text class="t" x="1324.65" y="899.36" text-anchor="middle">AB</text>
<text class="t" x="1380.95" y="889.34" text-anchor="middle">A</text>
<text class="t" x="1436.25" y="895.85" text-anchor="middle">A</text>
<text class="t" x="1491.15" y="895.1" text-anchor="middle">A</text>
<text class="t" x="1546.05" y="901.86" text-anchor="middle">AB</text>
<text class="t" x="1601.25" y="910.38" text-anchor="middle">B</text>
<text class="yt" style="font-size:19.5px" transform="translate(1264.8 963.7) rotate(-90) scale(0.9487 1)" text-anchor="middle">1/TP (g/kg) - North Restoration</text>
<text class="pl" x="1243.2" y="797.3">L</text>
</g>
<g>
<rect x="67.07" y="1428.5" width="32.96" height="70.6" fill="#fcc0c0" stroke="#909090" stroke-width="1"/>
<rect x="122.17" y="1393.94" width="32.96" height="105.16" fill="#fcc0c0" stroke="#909090" stroke-width="1"/>
<rect x="177.27" y="1322.05" width="32.96" height="177.05" fill="#fcc0c0" stroke="#909090" stroke-width="1"/>
<rect x="232.37" y="1378.16" width="32.96" height="120.94" fill="#fcc0c0" stroke="#909090" stroke-width="1"/>
<rect x="287.47" y="1398.45" width="32.96" height="100.65" fill="#fcc0c0" stroke="#909090" stroke-width="1"/>
<rect x="342.57" y="1408.46" width="32.96" height="90.64" fill="#fcc0c0" stroke="#909090" stroke-width="1"/>
<path d="M83.85 1425V1432.26M78.95 1425H88.75M78.95 1432.26H88.75M138.95 1386.17V1402.45M134.05 1386.17H143.85M134.05 1402.45H143.85M194.05 1262.68V1381.41M189.15 1262.68H198.95M189.15 1381.41H198.95M249.15 1326.81V1430.26M244.25 1326.81H254.05M244.25 1430.26H254.05M304.25 1352.36V1445.79M299.35 1352.36H309.15M299.35 1445.79H309.15M359.35 1377.4V1440.28M354.45 1377.4H364.25M354.45 1440.28H364.25" stroke="#333" stroke-width="1.45" stroke-opacity="0.85" fill="none"/>
<path d="M83.85 1193.9v5.6M83.85 1499.1v-5.6M138.95 1193.9v5.6M138.95 1499.1v-5.6M194.05 1193.9v5.6M194.05 1499.1v-5.6M249.15 1193.9v5.6M249.15 1499.1v-5.6M304.25 1193.9v5.6M304.25 1499.1v-5.6M359.35 1193.9v5.6M359.35 1499.1v-5.6M56.3 1422.8h5.6M386.9 1422.8h-5.6M56.3 1346.5h5.6M386.9 1346.5h-5.6M56.3 1270.2h5.6M386.9 1270.2h-5.6" stroke="#1a1a1a" stroke-width="1.5" fill="none"/>
<rect x="56.3" y="1193.9" width="330.6" height="305.2" fill="none" stroke="#1a1a1a" stroke-width="1.6"/>
<text class="t" x="48.7" y="1503.8" text-anchor="end">0.0</text>
<text class="t" x="48.7" y="1427.5" text-anchor="end">0.2</text>
<text class="t" x="48.7" y="1351.2" text-anchor="end">0.4</text>
<text class="t" x="48.7" y="1274.9" text-anchor="end">0.6</text>
<text class="t" x="48.7" y="1198.6" text-anchor="end">0.8</text>
<text class="t" style="font-size:16px" x="82.15" y="1516.17" text-anchor="middle">2019/7</text>
<text class="t" style="font-size:16px" x="137.5" y="1516.17" text-anchor="middle">2019/11</text>
<text class="t" style="font-size:16px" x="195.85" y="1516.17" text-anchor="middle">2020/5</text>
<text class="t" style="font-size:16px" x="250.25" y="1516.17" text-anchor="middle">2020/7</text>
<text class="t" style="font-size:16px" x="304.35" y="1515.17" text-anchor="middle">2021/4</text>
<text class="t" style="font-size:16px" x="361.45" y="1515.17" text-anchor="middle">2021/6</text>
<text class="t" x="83.25" y="1421.84" text-anchor="middle">A</text>
<text class="t" x="139.55" y="1381.01" text-anchor="middle">A</text>
<text class="t" x="194.85" y="1256.77" text-anchor="middle">A</text>
<text class="t" x="248.75" y="1322.4" text-anchor="middle">A</text>
<text class="t" x="303.65" y="1347.45" text-anchor="middle">A</text>
<text class="t" x="359.15" y="1371.74" text-anchor="middle">A</text>
<text class="yt" style="font-size:19.5px" transform="translate(23.1 1346.5) rotate(-90) scale(0.9487 1)" text-anchor="middle">TS (g/kg) - North Unrestoration</text>
<text class="pl" x="0" y="1178.8">M</text>
<text class="t" style="font-size:19px;font-kerning:none" x="211" y="1546.7" text-anchor="middle">Year</text>
</g>
<g>
<rect x="481.27" y="1292.99" width="32.96" height="206.11" fill="#e07b78" stroke="#909090" stroke-width="1"/>
<rect x="536.37" y="1335.07" width="32.96" height="164.03" fill="#e07b78" stroke="#909090" stroke-width="1"/>
<rect x="591.47" y="1382.41" width="32.96" height="116.69" fill="#e07b78" stroke="#909090" stroke-width="1"/>
<rect x="646.57" y="1408.97" width="32.96" height="90.13" fill="#e07b78" stroke="#909090" stroke-width="1"/>
<rect x="701.67" y="1432.01" width="32.96" height="67.09" fill="#e07b78" stroke="#909090" stroke-width="1"/>
<rect x="756.77" y="1352.36" width="32.96" height="146.74" fill="#e07b78" stroke="#909090" stroke-width="1"/>
<path d="M498.05 1249.91V1336.83M493.15 1249.91H502.95M493.15 1336.83H502.95M553.15 1283.72V1386.42M548.25 1283.72H558.05M548.25 1386.42H558.05M608.25 1339.83V1425.75M603.35 1339.83H613.15M603.35 1425.75H613.15M663.35 1389.43V1429M658.45 1389.43H668.25M658.45 1429H668.25M718.45 1418.48V1446.04M713.55 1418.48H723.35M713.55 1446.04H723.35M773.55 1319.54V1385.42M768.65 1319.54H778.45M768.65 1385.42H778.45" stroke="#333" stroke-width="1.45" stroke-opacity="0.85" fill="none"/>
<path d="M498.05 1193.9v5.6M498.05 1499.1v-5.6M553.15 1193.9v5.6M553.15 1499.1v-5.6M608.25 1193.9v5.6M608.25 1499.1v-5.6M663.35 1193.9v5.6M663.35 1499.1v-5.6M718.45 1193.9v5.6M718.45 1499.1v-5.6M773.55 1193.9v5.6M773.55 1499.1v-5.6M470.5 1438.06h5.6M801.1 1438.06h-5.6M470.5 1377.02h5.6M801.1 1377.02h-5.6M470.5 1315.98h5.6M801.1 1315.98h-5.6M470.5 1254.94h5.6M801.1 1254.94h-5.6" stroke="#1a1a1a" stroke-width="1.5" fill="none"/>
<rect x="470.5" y="1193.9" width="330.6" height="305.2" fill="none" stroke="#1a1a1a" stroke-width="1.6"/>
<text class="t" x="462.9" y="1503.8" text-anchor="end">0.0</text>
<text class="t" x="462.9" y="1442.76" text-anchor="end">0.2</text>
<text class="t" x="462.9" y="1381.72" text-anchor="end">0.4</text>
<text class="t" x="462.9" y="1320.68" text-anchor="end">0.6</text>
<text class="t" x="462.9" y="1259.64" text-anchor="end">0.8</text>
<text class="t" x="462.9" y="1198.6" text-anchor="end">1.0</text>
<text class="t" style="font-size:16px" x="496.65" y="1517.92" text-anchor="middle">2019/7</text>
<text class="t" style="font-size:16px" x="552" y="1517.92" text-anchor="middle">2019/11</text>
<text class="t" style="font-size:16px" x="610.35" y="1517.92" text-anchor="middle">2020/5</text>
<text class="t" style="font-size:16px" x="664.75" y="1517.92" text-anchor="middle">2020/7</text>
<text class="t" style="font-size:16px" x="718.85" y="1516.92" text-anchor="middle">2021/4</text>
<text class="t" style="font-size:16px" x="775.95" y="1516.92" text-anchor="middle">2021/6</text>
<text class="t" x="498.65" y="1245.75" text-anchor="middle">A</text>
<text class="t" x="555.25" y="1279.57" text-anchor="middle">AB</text>
<text class="t" x="610.55" y="1335.42" text-anchor="middle">AB</text>
<text class="t" x="663.85" y="1384.52" text-anchor="middle">B</text>
<text class="t" x="718.85" y="1411.32" text-anchor="middle">B</text>
<text class="t" x="773.15" y="1315.13" text-anchor="middle">AB</text>
<text class="yt" style="font-size:19.5px" transform="translate(437.3 1346.5) rotate(-90) scale(0.9487 1)" text-anchor="middle">TS (g/kg) - North Restoration</text>
<text class="pl" x="419" y="1178.8">N</text>
<text class="t" style="font-size:16px;font-kerning:none" x="646.9" y="1543.3" text-anchor="middle">Year</text>
</g>
<g>
<rect x="895.57" y="1448.04" width="32.96" height="51.06" fill="#90c944" stroke="#909090" stroke-width="1"/>
<rect x="950.67" y="1388.68" width="32.96" height="110.42" fill="#90c944" stroke="#909090" stroke-width="1"/>
<rect x="1005.77" y="1297.5" width="32.96" height="201.6" fill="#90c944" stroke="#909090" stroke-width="1"/>
<rect x="1060.87" y="1389.18" width="32.96" height="109.92" fill="#90c944" stroke="#909090" stroke-width="1"/>
<rect x="1115.97" y="1337.83" width="32.96" height="161.27" fill="#90c944" stroke="#909090" stroke-width="1"/>
<rect x="1171.07" y="1381.66" width="32.96" height="117.44" fill="#90c944" stroke="#909090" stroke-width="1"/>
<path d="M912.35 1433.26V1463.32M907.45 1433.26H917.25M907.45 1463.32H917.25M967.45 1333.82V1443.78M962.55 1333.82H972.35M962.55 1443.78H972.35M1022.55 1242.9V1352.36M1017.65 1242.9H1027.45M1017.65 1352.36H1027.45M1077.65 1354.86V1423.74M1072.75 1354.86H1082.55M1072.75 1423.74H1082.55M1132.75 1279.47V1396.44M1127.85 1279.47H1137.65M1127.85 1396.44H1137.65M1187.85 1350.35V1414.48M1182.95 1350.35H1192.75M1182.95 1414.48H1192.75" stroke="#333" stroke-width="1.45" stroke-opacity="0.85" fill="none"/>
<path d="M912.35 1193.9v5.6M912.35 1499.1v-5.6M967.45 1193.9v5.6M967.45 1499.1v-5.6M1022.55 1193.9v5.6M1022.55 1499.1v-5.6M1077.65 1193.9v5.6M1077.65 1499.1v-5.6M1132.75 1193.9v5.6M1132.75 1499.1v-5.6M1187.85 1193.9v5.6M1187.85 1499.1v-5.6M884.8 1397.37h5.6M1215.4 1397.37h-5.6M884.8 1295.63h5.6M1215.4 1295.63h-5.6" stroke="#1a1a1a" stroke-width="1.5" fill="none"/>
<rect x="884.8" y="1193.9" width="330.6" height="305.2" fill="none" stroke="#1a1a1a" stroke-width="1.6"/>
<text class="t" x="877.2" y="1503.8" text-anchor="end">0</text>
<text class="t" x="877.2" y="1402.07" text-anchor="end">5</text>
<text class="t" x="877.2" y="1300.33" text-anchor="end">10</text>
<text class="t" x="877.2" y="1198.6" text-anchor="end">15</text>
<text class="t" style="font-size:16.75px" x="911" y="1518.8" text-anchor="middle">2019/7</text>
<text class="t" style="font-size:16.75px" x="966.37" y="1518.8" text-anchor="middle">2019/11</text>
<text class="t" style="font-size:16.75px" x="1021.74" y="1518.8" text-anchor="middle">2020/5</text>
<text class="t" style="font-size:16.75px" x="1077.11" y="1518.8" text-anchor="middle">2020/7</text>
<text class="t" style="font-size:16.75px" x="1132.48" y="1518.8" text-anchor="middle">2021/4</text>
<text class="t" style="font-size:16.75px" x="1187.85" y="1518.8" text-anchor="middle">2021/6</text>
<text class="t" x="913.05" y="1428.1" text-anchor="middle">B</text>
<text class="t" x="968.45" y="1329.91" text-anchor="middle">AB</text>
<text class="t" x="1023.75" y="1238.74" text-anchor="middle">A</text>
<text class="t" x="1078.05" y="1351.2" text-anchor="middle">AB</text>
<text class="t" x="1133.25" y="1274.81" text-anchor="middle">AB</text>
<text class="t" x="1188.25" y="1346.69" text-anchor="middle">AB</text>
<text class="yt" style="font-size:19.5px" transform="translate(854.9 1346.5) rotate(-90) scale(0.9487 1)" text-anchor="middle">1/TS (g/kg) - South Unrestoration</text>
<text class="pl" x="831.5" y="1178.8">O</text>
<text class="t" style="font-size:19px;font-kerning:none" x="1068" y="1547.5" text-anchor="middle">Year</text>
</g>
<g>
<rect x="1309.47" y="1419.49" width="32.96" height="79.61" fill="#00a84c" stroke="#909090" stroke-width="1"/>
<rect x="1364.57" y="1381.16" width="32.96" height="117.94" fill="#00a84c" stroke="#909090" stroke-width="1"/>
<rect x="1419.67" y="1408.71" width="32.96" height="90.39" fill="#00a84c" stroke="#909090" stroke-width="1"/>
<rect x="1474.77" y="1410.47" width="32.96" height="88.63" fill="#00a84c" stroke="#909090" stroke-width="1"/>
<rect x="1529.87" y="1458.56" width="32.96" height="40.54" fill="#00a84c" stroke="#909090" stroke-width="1"/>
<rect x="1584.97" y="1289.24" width="32.96" height="209.86" fill="#00a84c" stroke="#909090" stroke-width="1"/>
<path d="M1326.25 1407.96V1431.76M1321.35 1407.96H1331.15M1321.35 1431.76H1331.15M1381.35 1351.1V1412.22M1376.45 1351.1H1386.25M1376.45 1412.22H1386.25M1436.45 1395.69V1421.49M1431.55 1395.69H1441.35M1431.55 1421.49H1441.35M1491.55 1396.44V1425.25M1486.65 1396.44H1496.45M1486.65 1425.25H1496.45M1546.65 1449.54V1467.58M1541.75 1449.54H1551.55M1541.75 1467.58H1551.55M1601.75 1237.39V1341.08M1596.85 1237.39H1606.65M1596.85 1341.08H1606.65" stroke="#333" stroke-width="1.45" stroke-opacity="0.85" fill="none"/>
<path d="M1326.25 1193.9v5.6M1326.25 1499.1v-5.6M1381.35 1193.9v5.6M1381.35 1499.1v-5.6M1436.45 1193.9v5.6M1436.45 1499.1v-5.6M1491.55 1193.9v5.6M1491.55 1499.1v-5.6M1546.65 1193.9v5.6M1546.65 1499.1v-5.6M1601.75 1193.9v5.6M1601.75 1499.1v-5.6M1298.7 1448.23h5.6M1629.3 1448.23h-5.6M1298.7 1397.37h5.6M1629.3 1397.37h-5.6M1298.7 1346.5h5.6M1629.3 1346.5h-5.6M1298.7 1295.63h5.6M1629.3 1295.63h-5.6M1298.7 1244.77h5.6M1629.3 1244.77h-5.6" stroke="#1a1a1a" stroke-width="1.5" fill="none"/>
<rect x="1298.7" y="1193.9" width="330.6" height="305.2" fill="none" stroke="#1a1a1a" stroke-width="1.6"/>
<text class="t" x="1291.1" y="1503.8" text-anchor="end">0.0</text>
<text class="t" x="1291.1" y="1452.93" text-anchor="end">0.2</text>
<text class="t" x="1291.1" y="1402.07" text-anchor="end">0.4</text>
<text class="t" x="1291.1" y="1351.2" text-anchor="end">0.6</text>
<text class="t" x="1291.1" y="1300.33" text-anchor="end">0.8</text>
<text class="t" x="1291.1" y="1249.47" text-anchor="end">1.0</text>
<text class="t" x="1291.1" y="1198.6" text-anchor="end">1.2</text>
<text class="t" style="font-size:16.75px" x="1325.05" y="1519.18" text-anchor="middle">2019/7</text>
<text class="t" style="font-size:16.75px" x="1380.55" y="1519.18" text-anchor="middle">2019/11</text>
<text class="t" style="font-size:16.75px" x="1436.05" y="1519.18" text-anchor="middle">2020/5</text>
<text class="t" style="font-size:16.75px" x="1491.55" y="1519.18" text-anchor="middle">2020/7</text>
<text class="t" style="font-size:16.75px" x="1547.05" y="1519.18" text-anchor="middle">2021/4</text>
<text class="t" style="font-size:16.75px" x="1602.55" y="1519.18" text-anchor="middle">2021/6</text>
<text class="t" x="1328.55" y="1403.55" text-anchor="middle">AB</text>
<text class="t" x="1383.45" y="1345.94" text-anchor="middle">AB</text>
<text class="t" x="1437.05" y="1390.78" text-anchor="middle">A</text>
<text class="t" x="1493.25" y="1390.28" text-anchor="middle">A</text>
<text class="t" x="1547.55" y="1441.88" text-anchor="middle">B</text>
<text class="t" x="1601.15" y="1232.22" text-anchor="middle">A</text>
<text class="yt" style="font-size:19.5px" transform="translate(1263.3 1346.5) rotate(-90) scale(0.9487 1)" text-anchor="middle">TS (g/kg) - South Restoration</text>
<text class="pl" x="1242.3" y="1178.8">P</text>
<text class="t" style="font-size:19px;font-kerning:none" x="1463.7" y="1544.5" text-anchor="middle">Year</text>
</g>
</svg>
</body></html>
